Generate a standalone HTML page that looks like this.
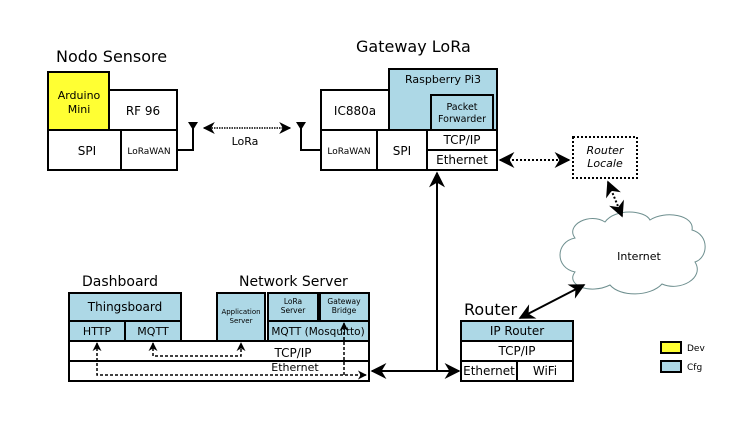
<!DOCTYPE html>
<html><head><meta charset="utf-8"><style>body{margin:0;background:#fff}svg{display:block}text{font-family:"DejaVu Sans","Liberation Sans",sans-serif;fill:#000}</style></head><body>
<svg width="742" height="422" viewBox="0 0 742 422" xmlns="http://www.w3.org/2000/svg">
<defs>
<marker id="a" viewBox="0 0 10 10" refX="9" refY="5" markerWidth="8" markerHeight="8" orient="auto-start-reverse"><path d="M0,0 L10,5 L0,10 L3,5z" fill="#000"/></marker>
<marker id="s" viewBox="0 0 10 10" refX="9" refY="5" markerWidth="6" markerHeight="6" orient="auto-start-reverse"><path d="M0,0 L10,5 L0,10 L3,5z" fill="#000"/></marker>
</defs>
<g stroke="#000" stroke-width="2">
<rect x="48" y="72" width="61" height="58" fill="#ffff33"/>
<rect x="109" y="90" width="68" height="40" fill="#fff"/>
<rect x="48" y="130" width="73" height="40" fill="#fff"/>
<rect x="121" y="130" width="56" height="40" fill="#fff"/>
<polyline points="177,150 193,150 193,124" fill="none"/>
<polyline points="321,150 301,150 301,124" fill="none"/>
<rect x="321" y="90" width="68" height="40" fill="#fff"/>
<rect x="389" y="69" width="108" height="61" fill="#add8e6"/>
<rect x="431" y="95" width="62" height="35" fill="#add8e6"/>
<rect x="321" y="130" width="56" height="40" fill="#fff"/>
<rect x="377" y="130" width="50" height="40" fill="#fff"/>
<rect x="427" y="130" width="70" height="20" fill="#fff"/>
<rect x="427" y="150" width="70" height="20" fill="#fff"/>
<rect x="69" y="293" width="112" height="28" fill="#add8e6"/>
<rect x="69" y="321" width="56" height="20" fill="#add8e6"/>
<rect x="125" y="321" width="56" height="20" fill="#add8e6"/>
<rect x="217" y="293" width="48" height="48" fill="#add8e6"/>
<rect x="268" y="293" width="50" height="28" fill="#add8e6"/>
<rect x="320" y="293" width="49" height="28" fill="#add8e6"/>
<rect x="268" y="321" width="101" height="20" fill="#add8e6"/>
<rect x="69" y="341" width="300" height="20" fill="#fff"/>
<rect x="69" y="361" width="300" height="20" fill="#fff"/>
<rect x="461" y="321" width="112" height="20" fill="#add8e6"/>
<rect x="461" y="341" width="112" height="20" fill="#fff"/>
<rect x="461" y="361" width="56" height="20" fill="#fff"/>
<rect x="517" y="361" width="56" height="20" fill="#fff"/>
<rect x="661" y="342" width="20" height="11" fill="#ffff33"/>
<rect x="661" y="361" width="20" height="11" fill="#add8e6"/>
</g>
<path d="M188,122 L198,122 L193,130z M296,122 L306,122 L301,130z" fill="#000"/>
<rect x="573" y="137" width="64" height="41" fill="#fff" stroke="#000" stroke-width="2" stroke-dasharray="2,2"/>
<path d="M575,238 C565,225 590,212 605,222 C615,208 645,210 650,220 C665,210 695,215 692,230 C710,235 708,258 695,262 C705,278 680,292 662,284 C650,297 620,297 610,285 C590,295 565,285 575,272 C555,268 555,242 575,238 Z" fill="#fff" stroke="#6e8f8f" stroke-width="1"/>
<g fill="none" stroke="#000">
<line x1="204" y1="128" x2="290" y2="128" stroke-width="1.5" stroke-dasharray="1.5,1" marker-start="url(#a)" marker-end="url(#a)"/>
<line x1="500" y1="160" x2="569" y2="160" stroke-width="2" stroke-dasharray="2,2" marker-start="url(#a)" marker-end="url(#a)"/>
<line x1="608" y1="182" x2="622" y2="216" stroke-width="2" stroke-dasharray="2,2" marker-start="url(#a)" marker-end="url(#a)"/>
<line x1="520" y1="318" x2="584" y2="285" stroke-width="2" marker-start="url(#a)" marker-end="url(#a)"/>
<line x1="437" y1="371" x2="437" y2="173" stroke-width="2" marker-end="url(#a)"/>
<line x1="372" y1="371" x2="459" y2="371" stroke-width="2" marker-start="url(#a)" marker-end="url(#a)"/>
<g stroke-width="1.5" stroke-dasharray="3,2">
<polyline points="97,343 97,375 366,375" marker-start="url(#s)" marker-end="url(#s)"/>
<line x1="344" y1="375" x2="344" y2="323" marker-end="url(#s)"/>
<polyline points="153,343 153,356 241,356 241,343" marker-start="url(#s)" marker-end="url(#s)"/>
</g>
</g>
<g font-size="16">
<text x="56" y="62">Nodo Sensore</text>
<text x="356" y="52">Gateway LoRa</text>
<text x="82" y="286" font-size="14">Dashboard</text>
<text x="239" y="286" font-size="14">Network Server</text>
<text x="464" y="315">Router</text>
</g>
<g font-size="12" text-anchor="middle">
<text x="79" y="99" font-size="11">Arduino</text><text x="79" y="113" font-size="11">Mini</text>
<text x="143" y="115">RF 96</text>
<text x="87" y="155">SPI</text>
<text x="149" y="154" font-size="9">LoRaWAN</text>
<text x="245" y="145" font-size="11">LoRa</text>
<text x="355" y="115">IC880a</text>
<text x="443" y="83" font-size="11">Raspberry Pi3</text>
<text x="462" y="110" font-size="9.5">Packet</text><text x="462" y="122" font-size="9.5">Forwarder</text>
<text x="349" y="154" font-size="9">LoRaWAN</text>
<text x="402" y="155">SPI</text>
<text x="462" y="144">TCP/IP</text>
<text x="462" y="164">Ethernet</text>
<text x="605" y="154" font-style="italic" font-size="11">Router</text><text x="605" y="167" font-style="italic" font-size="11">Locale</text>
<text x="639" y="260" font-size="11">Internet</text>
<text x="125" y="311">Thingsboard</text>
<text x="97" y="335" font-size="11">HTTP</text>
<text x="153" y="335" font-size="11">MQTT</text>
<text x="241" y="314" font-size="7">Application</text><text x="241" y="323" font-size="7">Server</text>
<text x="293" y="304" font-size="7.5">LoRa</text><text x="293" y="313" font-size="7.5">Server</text>
<text x="344" y="304" font-size="7.5">Gateway</text><text x="344" y="313" font-size="7.5">Bridge</text>
<text x="318" y="335" font-size="10.5">MQTT (Mosquitto)</text>
<text x="293" y="357">TCP/IP</text>
<text x="295" y="371" font-size="11">Ethernet</text>
<text x="517" y="335">IP Router</text>
<text x="517" y="355">TCP/IP</text>
<text x="489" y="375">Ethernet</text>
<text x="545" y="375">WiFi</text>
</g>
<text x="687" y="351" font-size="9">Dev</text>
<text x="687" y="370" font-size="9">Cfg</text>
</svg>
</body></html>
